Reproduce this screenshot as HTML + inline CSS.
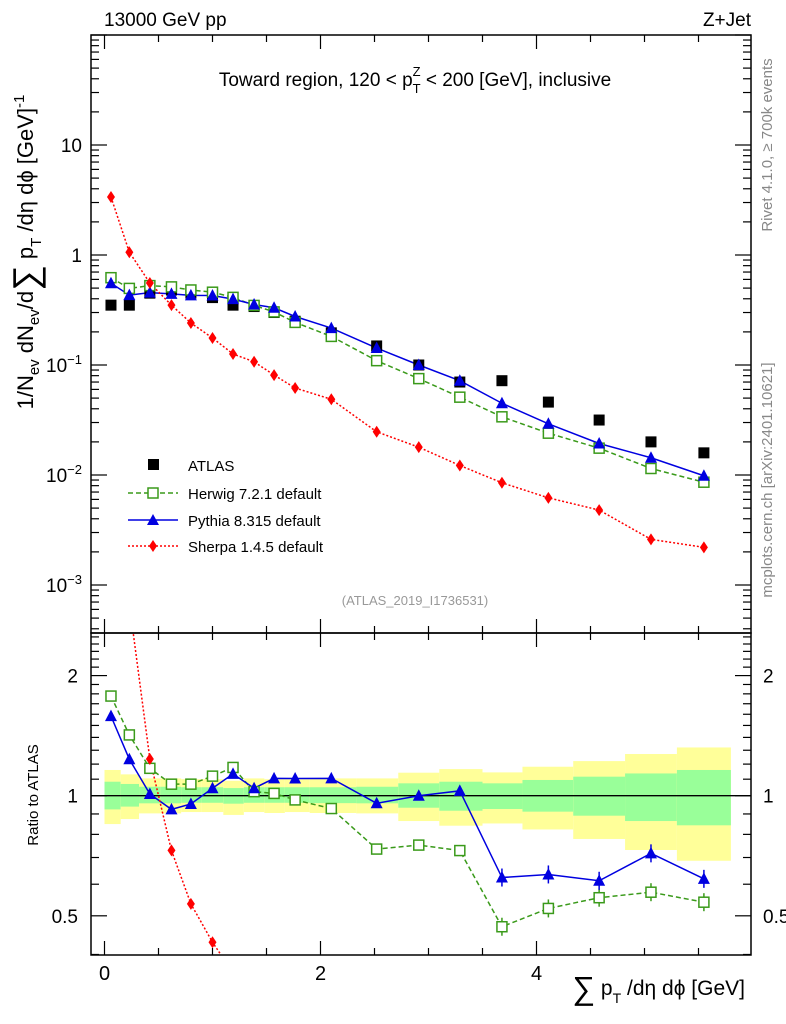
<!DOCTYPE html>
<html><head><meta charset="utf-8"><style>
html,body{margin:0;padding:0;background:#fff;overflow:hidden;width:786px;height:1024px}
svg{display:block;font-family:"Liberation Sans","DejaVu Sans",sans-serif}
</style></head><body>
<svg id="chart" width="786" height="1024" viewBox="0 0 786 1024" xmlns="http://www.w3.org/2000/svg">
<text x="104" y="26" font-size="19">13000 GeV pp</text>
<text x="751" y="26" font-size="19" text-anchor="end">Z+Jet</text>
<text x="772" y="145" font-size="15" fill="#888" transform="rotate(-90 772 145)" text-anchor="middle">Rivet 4.1.0, ≥ 700k events</text>
<text x="772" y="480" font-size="15" fill="#888" transform="rotate(-90 772 480)" text-anchor="middle">mcplots.cern.ch [arXiv:2401.10621]</text>
<g id="bands"></g>
<g id="main"></g>
<g id="ratio"></g>
<text x="415" y="86" font-size="19" text-anchor="middle">Toward region, 120 &lt; p<tspan font-size="13" dy="7">T</tspan><tspan font-size="13" dx="-8" dy="-17">Z</tspan><tspan dy="10"> &lt; 200 [GeV], inclusive</tspan></text>
<text x="415" y="605" font-size="13" fill="#999" text-anchor="middle">(ATLAS_2019_I1736531)</text>
<g transform="translate(33,252) rotate(-90)">
<text x="0" y="0" font-size="22" text-anchor="middle">1/N<tspan font-size="15" dy="6">ev</tspan><tspan dy="-6"> dN</tspan><tspan font-size="15" dy="6">ev</tspan><tspan dy="-6">/d</tspan><tspan font-size="36" dy="5">∑</tspan><tspan dy="-5"> p</tspan><tspan font-size="15" dy="8">T</tspan><tspan dy="-8"> /dη dϕ  [GeV]</tspan><tspan font-size="15" dy="-9">-1</tspan></text>
</g>
<text transform="translate(38,795) rotate(-90)" font-size="15" text-anchor="middle">Ratio to ATLAS</text>
<text x="745" y="995" font-size="21" text-anchor="end"><tspan font-size="32" dy="4">∑</tspan><tspan dy="-4"> p</tspan><tspan font-size="14" dy="8">T</tspan><tspan dy="-8"> /dη dϕ [GeV]</tspan></text>
<g>
<g><rect x="148" y="459" width="11" height="11" fill="#000"/><text x="188" y="471" font-size="15">ATLAS</text></g>
<g><line x1="128" y1="493" x2="178" y2="493" stroke="#3a9a1a" stroke-width="1.5" stroke-dasharray="5,3"/><rect x="148" y="488" width="10" height="10" fill="#fff" stroke="#3a9a1a" stroke-width="1.5"/><text x="188" y="499" font-size="15">Herwig 7.2.1 default</text></g>
<g><line x1="128" y1="520" x2="178" y2="520" stroke="#0000e0" stroke-width="1.5"/><polygon points="153,514 159,525 147,525" fill="#0000e0"/><text x="188" y="526" font-size="15">Pythia 8.315 default</text></g>
<g><line x1="128" y1="546" x2="178" y2="546" stroke="#f00" stroke-width="1.5" stroke-dasharray="2,2"/><polygon points="153,540 157,546 153,552 149,546" fill="#f00"/><text x="188" y="552" font-size="15">Sherpa 1.4.5 default</text></g>
</g>
</svg>
<script>
const xCenters=[0.06,0.23,0.42,0.62,0.80,1.0,1.19,1.385,1.57,1.765,2.1,2.52,2.91,3.29,3.68,4.11,4.58,5.06,5.55];
const atlasVals=[0.35,0.35,0.45,0.48,0.45,0.41,0.35,0.34,0.30,0.25,0.196,0.149,0.10,0.070,0.072,0.046,0.0316,0.020,0.0159];
const herwigVals=[0.622,0.497,0.527,0.513,0.481,0.459,0.412,0.348,0.304,0.244,0.182,0.1095,0.0752,0.0510,0.0338,0.0240,0.01754,0.01146,0.0086];
const pythiaVals=[0.554,0.432,0.4545,0.4435,0.429,0.428,0.397,0.355,0.3315,0.276,0.2166,0.1426,0.100,0.0720,0.0449,0.0292,0.01934,0.01434,0.00984];
const sherpaVals=[3.37,1.06,0.556,0.35,0.241,0.176,0.126,0.107,0.081,0.0618,0.0488,0.0247,0.0179,0.0122,0.0085,0.0062,0.0048,0.0026,0.0022];
const binEdges=[0,0.15,0.32,0.52,0.71,0.9,1.1,1.29,1.48,1.67,1.9,2.33,2.72,3.1,3.5,3.87,4.34,4.82,5.3,5.8];
const yelUp=[1.160,1.131,1.105,1.105,1.10,1.10,1.09,1.105,1.10,1.10,1.105,1.105,1.142,1.166,1.144,1.182,1.221,1.272,1.321];
const yelLo=[0.849,0.874,0.903,0.903,0.91,0.91,0.895,0.91,0.905,0.91,0.905,0.903,0.864,0.841,0.852,0.823,0.779,0.731,0.687];
const grnUp=[1.084,1.070,1.053,1.053,1.05,1.05,1.045,1.05,1.05,1.05,1.05,1.053,1.074,1.084,1.074,1.095,1.116,1.137,1.160];
const grnLo=[0.924,0.939,0.957,0.957,0.96,0.96,0.955,0.96,0.96,0.96,0.958,0.957,0.933,0.917,0.926,0.912,0.891,0.864,0.843];
const mainTickLabels=["10","1","10⁻¹","10⁻²","10⁻³"];
const mainTickVals=[10,1,0.1,0.01,0.001];
const ratioTickVals=[2,1,0.5];
const ratioTickLabels=["2","1","0.5"];
const xTickVals=[0,2,4];
const xTickLabels=["0","2","4"];

const NS="http://www.w3.org/2000/svg";
const L=91,R=751,MT=35,MB=633,RB=955;
const X=v=>104.5+108*v;
const Ym=v=>255-110*Math.log10(v);
const Yr=v=>795.7-399*Math.log10(v);
function mk(p,tag,at){const e=document.createElementNS(NS,tag);for(const k in at)e.setAttribute(k,at[k]);p.appendChild(e);return e;}
const svg=document.getElementById('chart');
const main=document.getElementById('main'),ratio=document.getElementById('ratio'),bands=document.getElementById('bands');

for(let i=0;i<binEdges.length-1;i++){
  const x1=X(binEdges[i]),x2=X(binEdges[i+1]);
  const y=mk(bands,'rect',{x:x1,y:Yr(yelUp[i]),width:x2-x1,height:Yr(yelLo[i])-Yr(yelUp[i]),fill:'#ffff99'});
  
  
  const g=mk(bands,'rect',{x:x1,y:Yr(grnUp[i]),width:x2-x1,height:Yr(grnLo[i])-Yr(grnUp[i]),fill:'#99ff99'});
  
  
}
const one=mk(ratio,'line',{x1:L,x2:R,y1:Yr(1),y2:Yr(1),stroke:'#000','stroke-width':1.3});



for(const [t,b,n] of [[MT,MB,'main-frame'],[MB,RB,'ratio-frame']]){
  const f=mk(svg,'rect',{x:L,y:t,width:R-L,height:b-t,fill:'none',stroke:'#000','stroke-width':1.5});
  
  
}
for(let v=0;v<=5.5;v+=0.5){
  const maj=Math.abs(v%2)<1e-9,len=maj?14:7;
  for(const [yb,yt] of [[MB,MT],[RB,MB]]){
    mk(svg,'line',{x1:X(v),x2:X(v),y1:yb,y2:yb-len,stroke:'#000','stroke-width':1.2});
    mk(svg,'line',{x1:X(v),x2:X(v),y1:yt,y2:yt+len,stroke:'#000','stroke-width':1.2});
  }
}
xTickVals.forEach((v,i)=>{const t=mk(svg,'text',{x:X(v),y:980,'font-size':20,'text-anchor':'middle'});t.textContent=xTickLabels[i];

});
for(let e=-4;e<=2;e++){for(let m=1;m<10;m++){const v=m*Math.pow(10,e),y=Ym(v);if(y<MT||y>MB)continue;const len=m===1?16:8;
mk(svg,'line',{x1:L,x2:L+len,y1:y,y2:y,stroke:'#000','stroke-width':1.2});mk(svg,'line',{x1:R,x2:R-len,y1:y,y2:y,stroke:'#000','stroke-width':1.2});}}
mainTickVals.forEach((v,i)=>{const t=mk(svg,'text',{x:82,y:Ym(v)+7,'font-size':19,'text-anchor':'end'});
const lab=mainTickLabels[i];if(lab.startsWith('10⁻')){t.textContent='10';const s=mk(t,'tspan',{dy:-8,'font-size':13});s.textContent='−'+({'¹':'1','²':'2','³':'3'})[lab.slice(3)];}else t.textContent=lab;

});
for(let v=0.4;v<=2.5;v=+(v+0.1).toFixed(2)){const y=Yr(v);if(y<MB||y>RB)continue;const maj=[0.5,1,2].some(a=>Math.abs(a-v)<1e-6),len=maj?16:8;
mk(svg,'line',{x1:L,x2:L+len,y1:y,y2:y,stroke:'#000','stroke-width':1.2});mk(svg,'line',{x1:R,x2:R-len,y1:y,y2:y,stroke:'#000','stroke-width':1.2});}
ratioTickVals.forEach((v,i)=>{for(const [x,a] of [[78,'end'],[763,'start']]){const t=mk(svg,'text',{x:x,y:Yr(v)+7,'font-size':19,'text-anchor':a});t.textContent=ratioTickLabels[i];

}});

const defs=mk(svg,'defs',{});
const c1=mk(defs,'clipPath',{id:'cm'});mk(c1,'rect',{x:L,y:MT,width:R-L,height:MB-MT});
const c2=mk(defs,'clipPath',{id:'cr'});mk(c2,'rect',{x:L,y:MB,width:R-L,height:RB-MB});
main.setAttribute('clip-path','url(#cm)');ratio.setAttribute('clip-path','url(#cr)');

function marker(p,kind,x,y,col){
  if(kind==='sq')return mk(p,'rect',{x:x-5.5,y:y-5.5,width:11,height:11,fill:'#000'});
  if(kind==='osq')return mk(p,'rect',{x:x-5,y:y-5,width:10,height:10,fill:'#fff',stroke:col,'stroke-width':1.5});
  if(kind==='tri')return mk(p,'polygon',{points:`${x},${y-6.5} ${x+6},${y+5} ${x-6},${y+5}`,fill:col});
  return mk(p,'polygon',{points:`${x},${y-6} ${x+4},${y} ${x},${y+6} ${x-4},${y}`,fill:col});
}
const series=[
 {name:'herwig',vals:herwigVals,col:'#3a9a1a',dash:'5,3',kind:'osq'},
 {name:'pythia',vals:pythiaVals,col:'#0000e0',dash:'',kind:'tri'},
 {name:'sherpa',vals:sherpaVals,col:'#f00',dash:'2,2',kind:'dia'}];
series.forEach(s=>{
  const pts=xCenters.map((x,i)=>X(x)+','+Ym(s.vals[i])).join(' ');
  const pl=mk(main,'polyline',{points:pts,fill:'none',stroke:s.col,'stroke-width':1.5,'stroke-dasharray':s.dash});
  
  
  const rpts=xCenters.map((x,i)=>X(x)+','+Yr(s.vals[i]/atlasVals[i])).join(' ');
  const rl=mk(ratio,'polyline',{points:rpts,fill:'none',stroke:s.col,'stroke-width':1.5,'stroke-dasharray':s.dash});
  
  
});
xCenters.forEach((x,i)=>{
  const a=marker(main,'sq',X(x),Ym(atlasVals[i]));
  
  
});
series.forEach(s=>{xCenters.forEach((x,i)=>{
  const m=marker(main,s.kind,X(x),Ym(s.vals[i]),s.col);
  
  
  const r=s.vals[i]/atlasVals[i],yr=Yr(r);
  if(i>=14){mk(ratio,'line',{x1:X(x),x2:X(x),y1:yr-9,y2:yr+9,stroke:s.col,'stroke-width':1.5});}
  const rm=marker(ratio,s.kind,X(x),yr,s.col);
  
  
});});
</script>
</body></html>
